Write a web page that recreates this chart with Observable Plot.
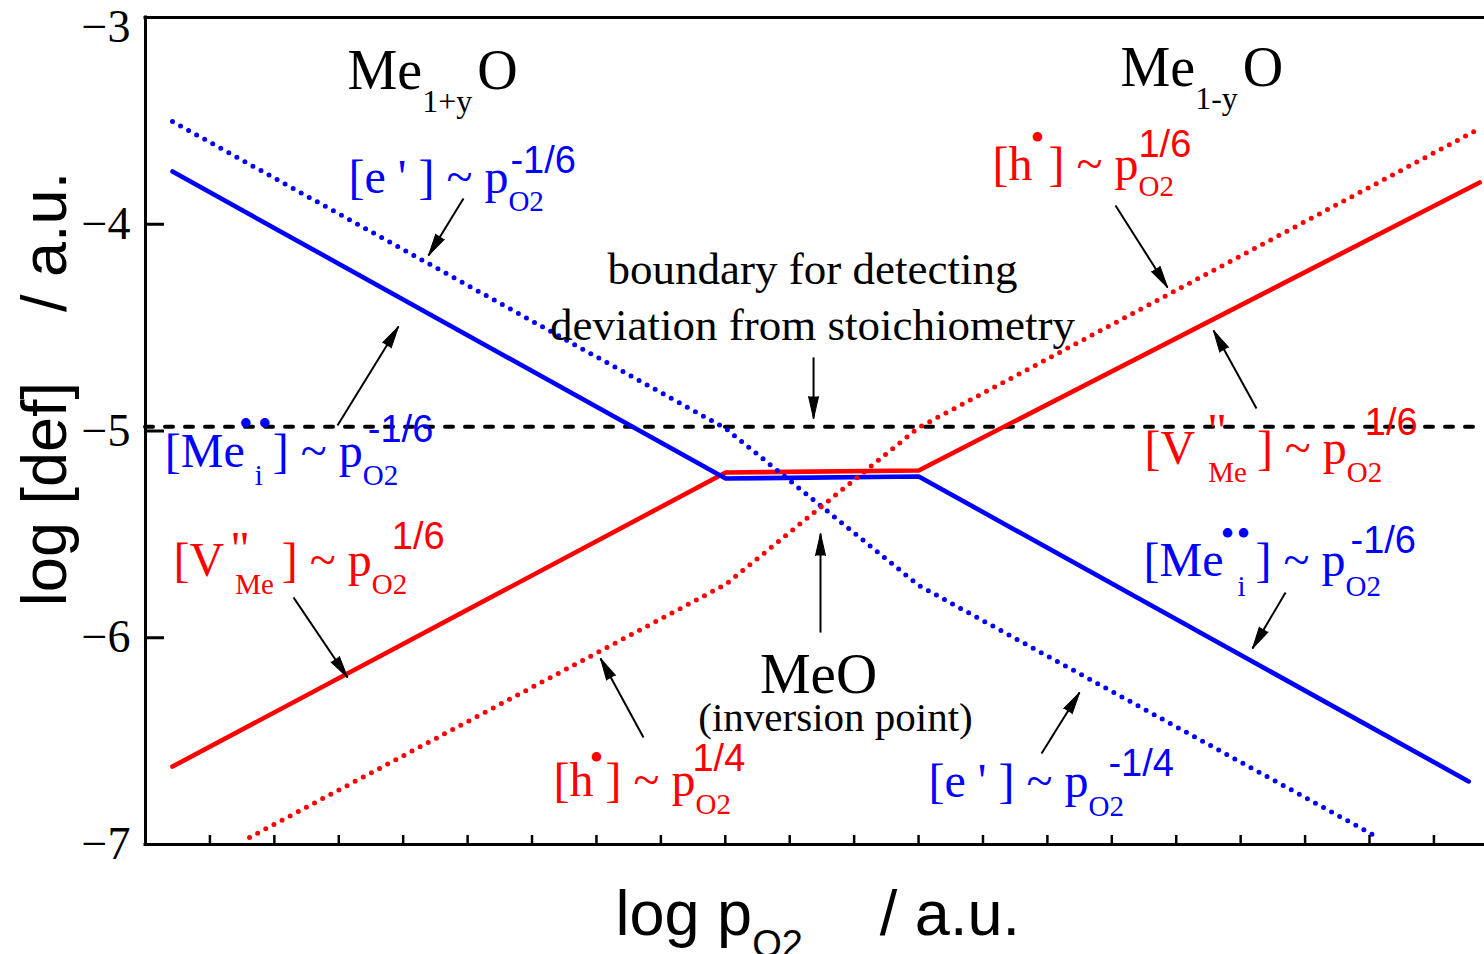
<!DOCTYPE html>
<html>
<head>
<meta charset="utf-8">
<script src="https://cdn.jsdelivr.net/npm/d3@7"></script>
<script src="https://cdn.jsdelivr.net/npm/@observablehq/plot@0.6"></script>
<style>
  html, body { margin: 0; padding: 0; background: #fff; }
  #chart { width: 1484px; height: 954px; overflow: hidden; }
</style>
</head>
<body>
<div id="chart"></div>
<script>
// ----------------------------- data -----------------------------
const xDomain = [0, 20.785];          // log pO2 (arbitrary units, one unit per minor tick)
const yDomain = [-7, -3];             // log [def]
const yTicks = [-7, -6, -5, -4, -3];
const xTicks = [0,1,2,3,4,5,6,7,8,9,10,11,12,13,14,15,16,17,18,19,20];

// [V''Me]  (red, solid)
const vacancyLogP   = [0.419, 9.006, 12.003, 20.71];
const vacancyLogDef = [-6.623, -5.201, -5.191, -3.798];
// [Me_i••] (blue, solid)
const interstitialLogP   = [0.419, 9.006, 12.003, 20.54];
const interstitialLogDef = [-3.745, -5.230, -5.220, -6.695];
// [e'] (blue, dotted)
const electronLogP   = [0.419, 9.006, 12.003, 19.05];
const electronLogDef = [-3.503, -4.988, -5.747, -6.952];
// [h•] (red, dotted)
const holeLogP   = [1.615, 9.006, 12.003, 20.71];
const holeLogDef = [-6.966, -5.742, -4.983, -3.537];

// detection boundary
const boundaryLogDef = -4.98;

// annotation arrows (tail -> tip)
const arrowX1 = [4.936, 2.980, 2.297, 7.730, 10.478, 10.370, 15.057, 17.246, 17.697, 13.909];
const arrowY1 = [-3.875, -4.973, -5.805, -6.482, -5.975, -4.644, -3.909, -4.891, -5.781, -6.560];
const arrowX2 = [4.393, 3.927, 3.136, 7.063, 10.478, 10.370, 15.865, 16.579, 17.184, 14.499];
const arrowY2 = [-4.151, -4.495, -6.192, -6.100, -5.496, -4.940, -4.306, -4.514, -6.052, -6.265];

// rich labels: [text, kind, dx, baseline shift]
const richParts = [
  [["Me","n"],["1+y","B"],["O","n",5]],
  [["Me","n"],["1-y","B"],["O","n",5]],
  [["[e ' ] ~ p","n"],["O2","b"],["-1/6","p@",2,-20]],
  [["[Me","n"],["\u2022","d",-6],["\u2022","d",5],["i","b@",-3],["] ~ p","n",10],["O2","b"],["-1/6","p@",5,-25]],
  [["[V","n"],["\"","q",6,-11],["Me","b@",5],["] ~ p","n",8],["O2","b"],["1/6","p@",20,-27]],
  [["[h","n"],["\u2022","d",-4,-25],["] ~ p","n",2],["O2","b"],["1/4","p@",-3,-25]],
  [["[h","n"],["\u2022","d",-2,-29],["] ~ p","n",4],["O2","b",0,16],["1/6","p@",0,-23]],
  [["[V","n"],["\"","q",12,-17],["Me","b@",1],["] ~ p","n",10],["O2","b"],["1/6","p@",18,-29]],
  [["[Me","n"],["\u2022","d",-3,-29],["\u2022","d",2,-29],["i","b@",1,20],["] ~ p","n",10],["O2","b",0,20],["-1/6","p@",5,-23]],
  [["[e ' ] ~ p","n"],["O2","b",0,19],["-1/4","p@",20,-21]],
  [["log p","n"],["O2","s"],["\u00A0\u00A0\u00A0\u00A0/ a.u.","n",7]]
];
const richX = [3.136, 15.135, 3.151, 0.300, 0.435, 6.333, 13.148, 15.508, 15.492, 12.155, 7.296];
const richY = [-3.348, -3.329, -3.851, -5.172, -5.699, -6.763, -3.788, -5.162, -5.699, -6.768, -7.440];
const richRole = ["phase","phase","electron","interstitial","vacancy","hole","hole","vacancy","interstitial","electron","xtitle"];

const plainText = ["boundary for detecting", "deviation from stoichiometry", "MeO", "(inversion point)"];
const plainX = [10.354, 10.354, 10.447, 10.711];
const plainY = [-4.287, -4.562, -6.265, -6.453];
const plainRole = ["note", "note", "meo", "inv"];

const yTitle = "log [def]\u00A0\u00A0\u00A0\u00A0/ a.u.";

// ----------------------------- styles -----------------------------
const W = 1484, H = 954, ML = 145, MR = 0, MT = 17, MB = 110;
const SERIF = "'Liberation Serif', 'Times New Roman', serif";
const SANS = "'Liberation Sans', Arial, sans-serif";
const BLUE = "#0000ff", RED = "#ff0000";
const ROLE = {
  phase: {font: SERIF, size: 56, color: "black"},
  electron: {font: SERIF, size: 48, color: BLUE},
  interstitial: {font: SERIF, size: 48, color: BLUE},
  vacancy: {font: SERIF, size: 48, color: RED},
  hole: {font: SERIF, size: 48, color: RED},
  xtitle: {font: SANS, size: 63, color: "black"},
  note: {font: SERIF, size: 45, color: "black"},
  meo: {font: SERIF, size: 57, color: "black"},
  inv: {font: SERIF, size: 41, color: "black"}
};
const KIND = {
  n: {},
  b: {font: SERIF, size: 29, shift: 18},
  B: {font: SERIF, size: 32, shift: 23},
  p: {font: SANS, size: 38, shift: -24},
  d: {font: SERIF, size: 40, shift: -30},
  q: {font: SERIF, size: 48, shift: -14},
  s: {font: SANS, size: 38, shift: 22}
};

const series = (xs, ys) => xs.map((x, i) => ({x, y: ys[i]}));
const vacancy = series(vacancyLogP, vacancyLogDef);
const interstitial = series(interstitialLogP, interstitialLogDef);
const electron = series(electronLogP, electronLogDef);
const hole = series(holeLogP, holeLogDef);
const arrows = arrowX1.map((x1, i) => ({x1, y1: arrowY1[i], x2: arrowX2[i], y2: arrowY2[i]}));
const rich = richParts.map((parts, i) => ({parts, x: richX[i], y: richY[i], role: richRole[i], key: "rich-" + i}));
const plain = plainText.map((text, i) => ({text, x: plainX[i], y: plainY[i], role: plainRole[i], key: "plain-" + i}));

const kx = (W - ML - MR) / (xDomain[1] - xDomain[0]);
const ky = (H - MT - MB) / (yDomain[1] - yDomain[0]);
const headAngle = a => Math.atan2((a.x2 - a.x1) * kx, (a.y2 - a.y1) * ky) * 180 / Math.PI;

const solid = {x: "x", y: "y", strokeWidth: 4.6, strokeLinecap: "round", strokeLinejoin: "round"};
const dotted = {x: "x", y: "y", strokeWidth: 5, strokeLinecap: "round", strokeDasharray: "0 9.2"};
const yLabelOpts = {anchor: "left", tickSize: 0, tickPadding: 15, fontSize: 46, fontFamily: SERIF,
  tickFormat: d3.format("d"), label: null};

const chart = Plot.plot({
  width: W, height: H,
  marginLeft: ML, marginRight: MR, marginTop: MT, marginBottom: MB,
  x: {domain: xDomain, axis: null},
  y: {domain: yDomain, axis: null},
  style: {background: "white", color: "black", overflow: "visible"},
  marks: [
    Plot.ruleY([boundaryLogDef], {stroke: "black", strokeWidth: 4, strokeDasharray: "8 12", strokeLinecap: "round"}),
    Plot.line(vacancy, {...solid, stroke: RED}),
    Plot.line(interstitial, {...solid, stroke: BLUE}),
    Plot.line(electron, {...dotted, stroke: BLUE}),
    Plot.line(hole, {...dotted, stroke: RED}),
    Plot.link(arrows, {x1: "x1", y1: "y1", x2: "x2", y2: "y2", stroke: "black", strokeWidth: 2}),
    Plot.vector(arrows, {x: "x2", y: "y2", rotate: headAngle, length: 22, r: 5, shape: "spike", anchor: "end",
      fill: "black", fillOpacity: 1, stroke: "black", strokeWidth: 1}),
    Plot.axisY(yTicks, {anchor: "left", tickSize: -19, strokeWidth: 3, tickFormat: () => "", label: null}),
    Plot.axisY(yTicks.slice(0, 4), yLabelOpts),
    Plot.axisY(yTicks.slice(4), {...yLabelOpts, dy: 10}),
    Plot.axisX(xTicks, {anchor: "bottom", tickSize: -9, strokeWidth: 2.5, tickFormat: () => "", label: null}),
    Plot.ruleY(yDomain, {stroke: "black", strokeWidth: 3, strokeLinecap: "square"}),
    Plot.ruleX([xDomain[0]], {stroke: "black", strokeWidth: 3, strokeLinecap: "square"}),
    Plot.text(plain, {x: "x", y: "y", text: "text", textAnchor: "middle", lineAnchor: "bottom", ariaLabel: "key", fill: "black"}),
    Plot.text(rich, {x: "x", y: "y", text: d => d.parts.map(p => p[0]).join(""), textAnchor: "start", lineAnchor: "bottom", ariaLabel: "key"}),
    Plot.text([yTitle], {frameAnchor: "left", rotate: -90, dx: -80, dy: -42, textAnchor: "middle", lineAnchor: "bottom",
      fontFamily: SANS, fontSize: 63, fill: "black"})
  ]
});
document.getElementById("chart").appendChild(chart);

// ---------------- rich text (sub/superscripts) ----------------
const SVGNS = "http://www.w3.org/2000/svg";
function styleText(el, st) {
  el.setAttribute("font-family", st.font);
  el.setAttribute("font-size", st.size);
  el.setAttribute("fill", st.color);
}
function findText(key) {
  return Array.from(chart.querySelectorAll("text")).find(t => t.getAttribute("aria-label") === key);
}
plain.forEach(label => {
  const el = findText(label.key);
  if (!el) return;
  styleText(el, ROLE[label.role]);
  el.setAttribute("aria-label", label.text);
});
rich.forEach(label => {
  const el = findText(label.key);
  if (!el) return;
  styleText(el, ROLE[label.role]);
  el.setAttribute("aria-label", label.parts.map(p => p[0]).join(""));
  while (el.firstChild) el.removeChild(el.firstChild);
  let shift = 0, prev = null;
  for (const [str, kindRaw, dx = 0, over] of label.parts) {
    const stack = kindRaw.endsWith("@");
    const ks = KIND[stack ? kindRaw.slice(0, -1) : kindRaw];
    const t = document.createElementNS(SVGNS, "tspan");
    t.textContent = str;
    if (ks.font) t.setAttribute("font-family", ks.font);
    if (ks.size) t.setAttribute("font-size", ks.size);
    const target = over ?? ks.shift ?? 0;
    if (target !== shift) t.setAttribute("dy", target - shift);
    shift = target;
    let off = dx;
    if (stack && prev) off -= prev.getComputedTextLength();
    if (off) t.setAttribute("dx", off);
    el.appendChild(t);
    prev = t;
  }
});
</script>
</body>
</html>
